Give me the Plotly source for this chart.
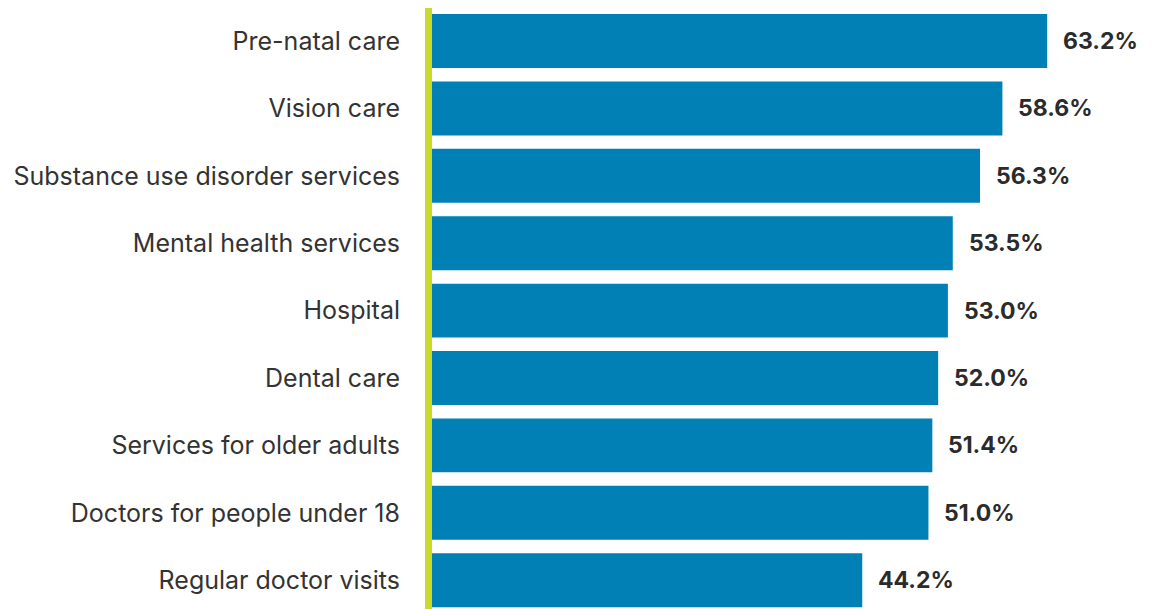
import plotly.graph_objects as go

categories = ["Pre-natal care", "Vision care", "Substance use disorder services",
              "Mental health services", "Hospital", "Dental care",
              "Services for older adults", "Doctors for people under 18",
              "Regular doctor visits"]
values = [63.2, 58.6, 56.3, 53.5, 53.0, 52.0, 51.4, 51.0, 44.2]
value_labels = [f"{v:.1f}%" for v in values]

fig = go.Figure()
fig.add_trace(go.Bar(
    x=values, y=categories, orientation="h",
    marker=dict(color="#0080B4", line=dict(width=0)),
    hoverinfo="skip",
))

for c, v, t in zip(categories, values, value_labels):
    fig.add_annotation(x=v, y=c, text=t, showarrow=False, xanchor="left",
                       yanchor="middle", xshift=14,
                       font=dict(family="Inter", size=23, color="#2b2b2b",
                                 weight="bold"))

fig.update_layout(
    width=1156, height=609,
    margin=dict(l=424, r=0, t=0, b=0),
    paper_bgcolor="white", plot_bgcolor="white",
    showlegend=False, bargap=0.2,
    font=dict(family="Inter", color="#333333"),
)
fig.update_xaxes(range=[0, 75.2], showgrid=False, zeroline=False,
                 showticklabels=False, showline=False, fixedrange=True)
fig.update_yaxes(categoryorder="array", categoryarray=categories,
                 range=[8.546, -0.49], autorange=False, automargin=False,
                 showgrid=False, zeroline=False,
                 showline=True, linecolor="#C9DA2A", linewidth=7,
                 tickfont=dict(family="Inter", size=25, color="#333333"),
                 ticklabelstandoff=20)

fig.write_html("out.html")
